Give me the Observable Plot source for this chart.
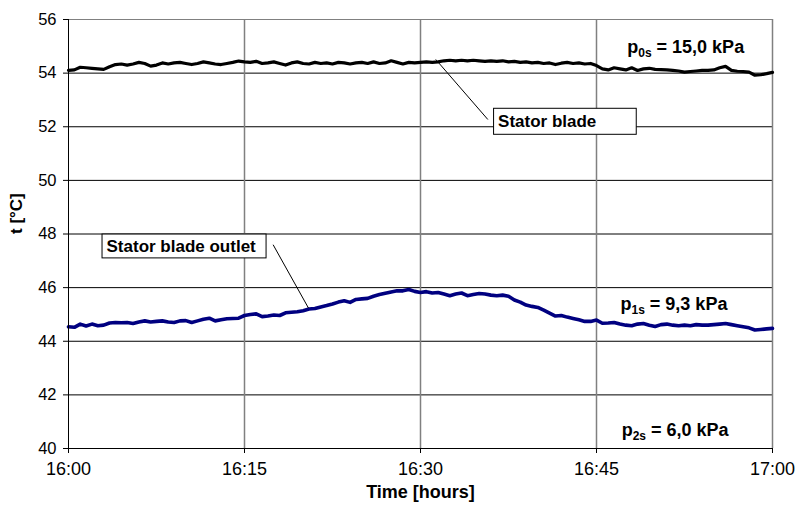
<!DOCTYPE html>
<html>
<head>
<meta charset="utf-8">
<script src="https://cdn.jsdelivr.net/npm/d3@7"></script>
<script src="https://cdn.jsdelivr.net/npm/@observablehq/plot@0.6"></script>
<style>
  html, body { margin: 0; padding: 0; background: #fff; }
  #chart svg { display: block; }
</style>
</head>
<body>
<div id="chart"></div>
<script>
// Sampling interval of the logger, in minutes after 16:00
const sampleStep = 0.5;

// Stator blade temperature [°C], one reading per 30 s from 16:00 to 17:00
const bladeTemp = [
  54.10, 54.12, 54.22, 54.20, 54.18, 54.16, 54.14, 54.24, 54.32, 54.34,
  54.30, 54.34, 54.40, 54.36, 54.26, 54.30, 54.38, 54.34, 54.38, 54.40,
  54.36, 54.32, 54.36, 54.42, 54.38, 54.34, 54.32, 54.36, 54.40, 54.45,
  54.42, 54.40, 54.44, 54.36, 54.38, 54.42, 54.36, 54.30, 54.38, 54.42,
  54.36, 54.34, 54.40, 54.36, 54.38, 54.34, 54.40, 54.38, 54.34, 54.38,
  54.40, 54.36, 54.42, 54.36, 54.38, 54.46, 54.40, 54.34, 54.40, 54.38,
  54.40, 54.42, 54.40, 54.42, 54.46, 54.48, 54.46, 54.48, 54.46, 54.48,
  54.46, 54.44, 54.46, 54.44, 54.46, 54.42, 54.44, 54.40, 54.42, 54.38,
  54.40, 54.36, 54.38, 54.32, 54.37, 54.40, 54.36, 54.38, 54.34, 54.36,
  54.28, 54.16, 54.12, 54.20, 54.16, 54.12, 54.20, 54.10, 54.16, 54.18,
  54.14, 54.13, 54.12, 54.10, 54.08, 54.04, 54.06, 54.08, 54.10, 54.10,
  54.12, 54.20, 54.25, 54.10, 54.07, 54.06, 54.04, 53.92, 53.94, 53.98,
  54.03
];

// Stator blade outlet temperature [°C], same sampling
const outletTemp = [
  44.54, 44.52, 44.64, 44.57, 44.64, 44.58, 44.60, 44.68, 44.70, 44.69,
  44.70, 44.66, 44.72, 44.76, 44.72, 44.74, 44.76, 44.72, 44.70, 44.76,
  44.77, 44.70, 44.76, 44.82, 44.86, 44.76, 44.80, 44.84, 44.85, 44.86,
  44.96, 45.00, 45.02, 44.92, 44.94, 44.98, 44.96, 45.06, 45.08, 45.10,
  45.14, 45.20, 45.22, 45.28, 45.33, 45.39, 45.46, 45.51, 45.45, 45.56,
  45.58, 45.60, 45.68, 45.74, 45.79, 45.84, 45.88, 45.88, 45.93, 45.86,
  45.82, 45.85, 45.80, 45.82, 45.76, 45.70, 45.76, 45.80, 45.70, 45.74,
  45.78, 45.76, 45.72, 45.70, 45.72, 45.68, 45.54, 45.46, 45.35, 45.30,
  45.26, 45.16, 45.05, 44.94, 44.96, 44.90, 44.85, 44.80, 44.74, 44.74,
  44.79, 44.67, 44.68, 44.70, 44.64, 44.60, 44.58, 44.64, 44.66, 44.60,
  44.55, 44.62, 44.64, 44.60, 44.58, 44.60, 44.58, 44.62, 44.60, 44.60,
  44.62, 44.64, 44.66, 44.62, 44.58, 44.54, 44.50, 44.42, 44.44, 44.46,
  44.48
];

// Axis ticks
const tickMinutes = [0, 15, 30, 45, 60];
const tickLabels = ["16:00", "16:15", "16:30", "16:45", "17:00"];
const yTicks = [40, 42, 44, 46, 48, 50, 52, 54, 56];

// Pressure labels for the three stages
const pressureLabels = ["p0s = 15,0 kPa", "p1s = 9,3 kPa", "p2s = 6,0 kPa"];
const pressureAt = [[52.6, 54.95], [51.6, 45.38], [51.7, 40.69]];

// Callout boxes with their leader lines (minutes, °C)
const calloutText = ["Stator blade", "Stator blade outlet"];
const calloutBox = [[36.27, 48.43, 51.70, 52.67], [2.90, 16.88, 47.09, 47.98]];
const calloutLeader = [[31.3, 54.51, 35.74, 52.27], [17.44, 47.60, 20.45, 45.24]];

const blade = bladeTemp.map((t, i) => ({m: i * sampleStep, t}));
const outlet = outletTemp.map((t, i) => ({m: i * sampleStep, t}));
const boxes = calloutText.map((label, i) => {
  const [x1, x2, y1, y2] = calloutBox[i];
  return {label, x1, x2, y1, y2};
});
const leaders = calloutLeader.map(([x1, y1, x2, y2]) => ({x1, y1, x2, y2}));
const pressures = pressureLabels.map((label, i) => ({label, x: pressureAt[i][0], y: pressureAt[i][1]}));

const font = "'Liberation Sans', Arial, Helvetica, sans-serif";

const chart = Plot.plot({
  width: 798,
  height: 515,
  marginLeft: 68,
  marginRight: 26,
  marginTop: 19,
  marginBottom: 67,
  style: {fontFamily: font, fontSize: "16px", background: "#fff", color: "#000", overflow: "visible"},
  x: {domain: [0, 60]},
  y: {domain: [40, 56]},
  marks: [
    // horizontal grid
    Plot.ruleY(yTicks.filter(v => v > 40 && v < 56), {stroke: "#000", strokeWidth: 1}),
    Plot.ruleY([56], {stroke: "#808080", strokeWidth: 1}),
    // vertical grid and right border
    Plot.ruleX(tickMinutes.filter(v => v > 0), {stroke: "#808080", strokeWidth: 1.5}),
    // temperature traces
    Plot.line(blade, {x: "m", y: "t", stroke: "#000", strokeWidth: 3.2, strokeLinejoin: "round"}),
    Plot.line(outlet, {x: "m", y: "t", stroke: "#000080", strokeWidth: 3.6, strokeLinejoin: "round"}),
    // callouts
    Plot.link(leaders, {x1: "x1", y1: "y1", x2: "x2", y2: "y2", stroke: "#000", strokeWidth: 1}),
    Plot.rect(boxes, {x1: "x1", x2: "x2", y1: "y1", y2: "y2", fill: "#fff", stroke: "#000", strokeWidth: 1}),
    Plot.text(boxes, {x: "x1", y: d => (d.y1 + d.y2) / 2, text: "label", textAnchor: "start", dx: 4, fontWeight: "bold", fontSize: 17, fill: "#000"}),
    // pressure labels
    Plot.text(pressures, {x: "x", y: "y", text: "label", fontWeight: "bold", fontSize: 18, fill: "#000"}),
    // axes
    Plot.axisY(yTicks, {tickSize: 5, tickPadding: 7, fontSize: 16.5, label: null, stroke: "#000"}),
    Plot.axisX(tickMinutes, {tickSize: 5, tickPadding: 9, fontSize: 18, label: null, tickFormat: (d) => tickLabels[tickMinutes.indexOf(d)], stroke: "#000"}),
    Plot.ruleX([0], {stroke: "#000", strokeWidth: 1}),
    Plot.ruleY([40], {stroke: "#000", strokeWidth: 1}),
    // axis titles
    Plot.text(["t [°C]"], {frameAnchor: "left", dx: -52, rotate: -90, text: d => d, fontWeight: "bold", fontSize: 17, fill: "#000"}),
    Plot.text(["Time [hours]"], {frameAnchor: "bottom", dy: 49, text: d => d, fontWeight: "bold", fontSize: 18, fill: "#000"})
  ]
});

// Subscripts in the pressure labels (p0s, p1s, p2s)
d3.select(chart).selectAll("text").each(function () {
  const el = d3.select(this);
  if (el.selectAll("tspan").size() > 0) return;
  const m = /^p(\d)s( = .*)$/.exec(this.textContent);
  if (!m) return;
  el.text(null);
  el.append("tspan").text("p");
  el.append("tspan").attr("font-size", 12).attr("dy", 4).text(m[1] + "s");
  el.append("tspan").attr("dy", -4).text(m[2]);
});

document.getElementById("chart").append(chart);
</script>
</body>
</html>
